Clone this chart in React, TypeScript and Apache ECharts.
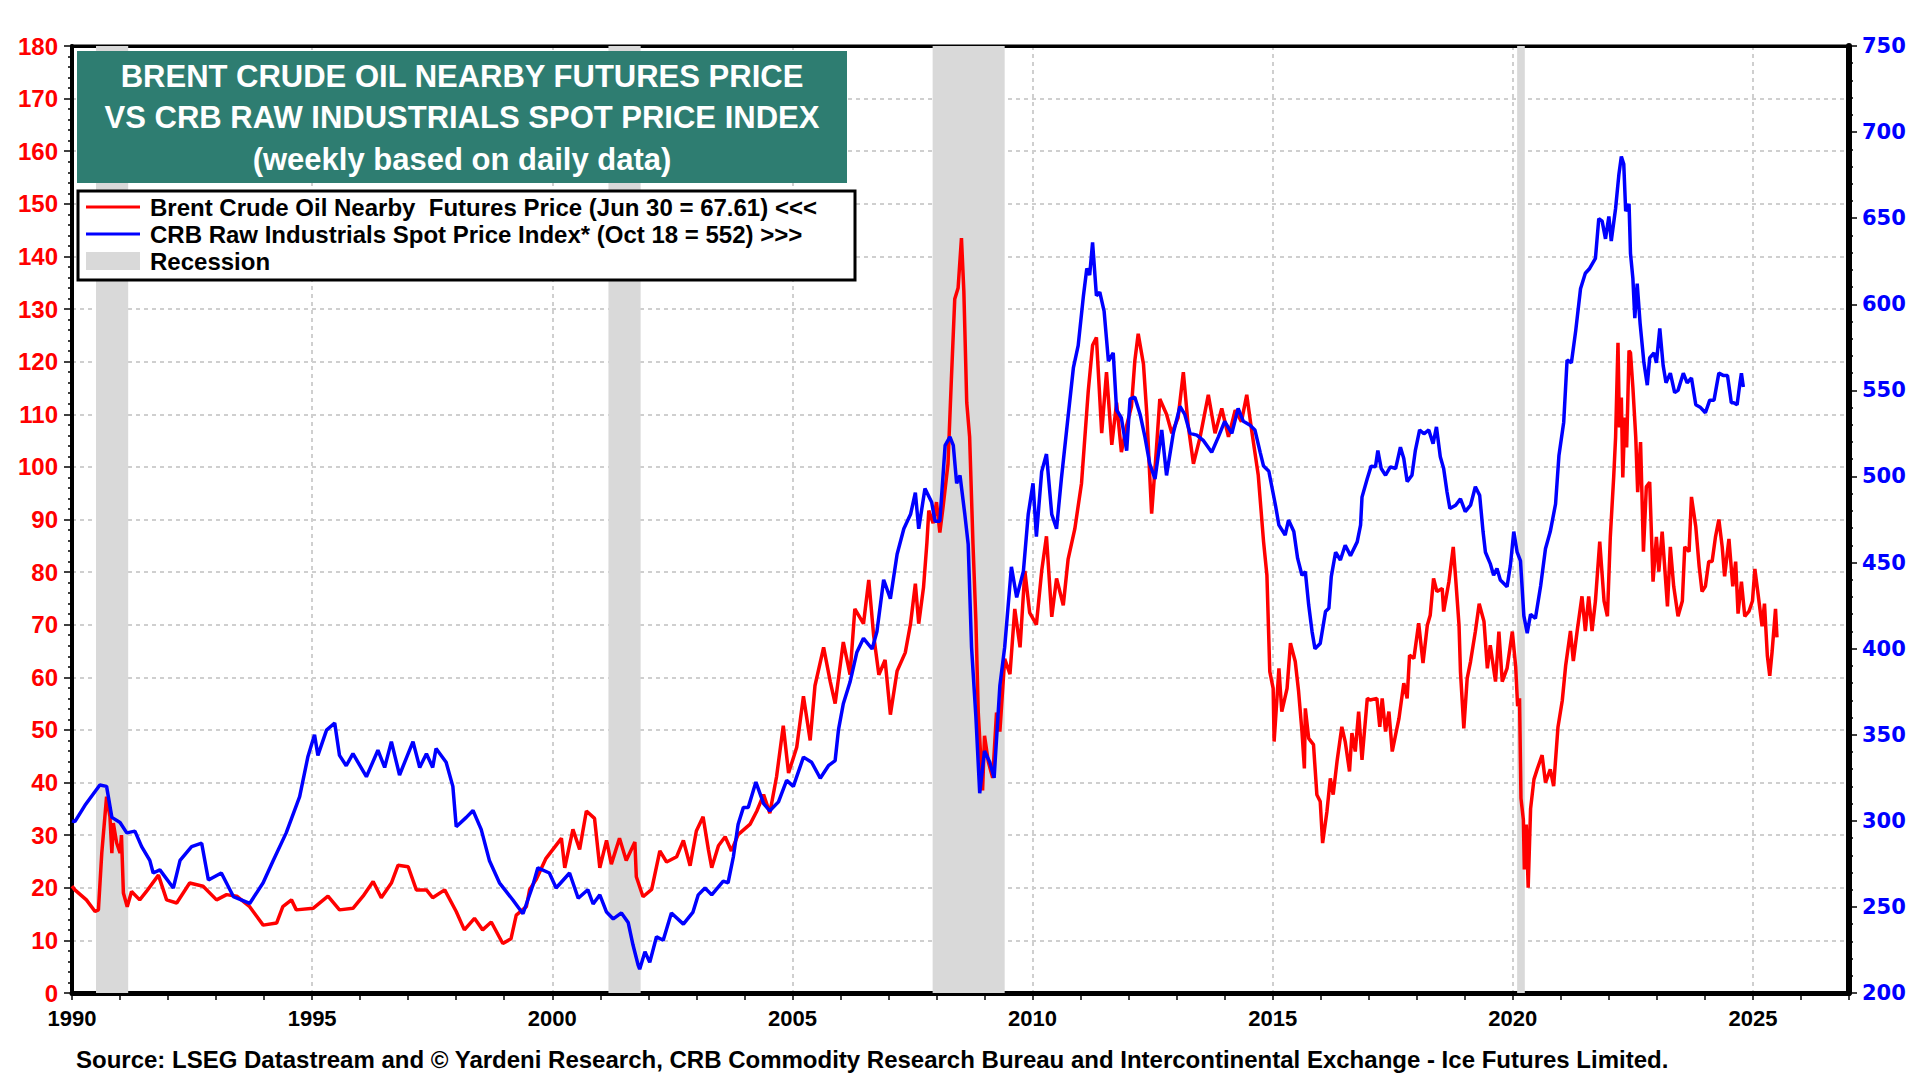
import { useEffect, useRef } from 'react';
import * as echarts from 'echarts';

const FONT = '"Liberation Sans", Arial, Helvetica, sans-serif';

// Brent crude, $/bbl (left axis) – [decimal year, value]
const brent1990s: [number, number][] = [
  [1990.0, 20.3], [1990.06, 19.6], [1990.3, 17.7], [1990.48, 15.5], [1990.55, 15.8], [1990.62, 26.6], [1990.72, 37.3],
  [1990.79, 33.5], [1990.83, 26.6], [1990.86, 32.3], [1990.93, 28.5], [1991.0, 26.6], [1991.03, 30], [1991.07, 19],
  [1991.15, 16.4], [1991.24, 19.3], [1991.41, 17.7], [1991.55, 19.3], [1991.8, 22.4], [1991.97, 17.7], [1992.18, 17.1],
  [1992.45, 20.9], [1992.73, 20.3], [1993.01, 17.7], [1993.22, 18.7], [1993.43, 18.4], [1993.7, 16.4], [1993.98, 12.9],
  [1994.26, 13.3], [1994.39, 16.4], [1994.57, 17.7], [1994.67, 15.8], [1995.02, 16.1], [1995.33, 18.4], [1995.57, 15.8],
  [1995.85, 16.1], [1996.06, 18.4], [1996.27, 21.2], [1996.44, 18.1], [1996.65, 20.9], [1996.79, 24.3], [1997.0, 24],
  [1997.17, 19.6], [1997.38, 19.6], [1997.51, 18.1], [1997.76, 19.6], [1998.0, 15.5], [1998.17, 12], [1998.38, 14.2],
  [1998.55, 12], [1998.73, 13.5], [1998.97, 9.4], [1999.14, 10.3], [1999.25, 14.8], [1999.46, 16.4], [1999.53, 19.7],
  [1999.66, 21.5], [1999.87, 25.6],
];
const brent2000s: [number, number][] = [
  [2000.19, 29.4], [2000.26, 23.8], [2000.43, 31.1], [2000.57, 27.3], [2000.71, 34.6], [2000.88, 33.2], [2000.99, 23.8],
  [2001.13, 29], [2001.23, 24.5], [2001.4, 29.4], [2001.54, 25.2], [2001.72, 28.7], [2001.75, 22.1], [2001.89, 18.3],
  [2002.07, 19.7], [2002.24, 27], [2002.38, 24.9], [2002.59, 25.9], [2002.73, 29], [2002.87, 24.2], [2003.0, 30.8],
  [2003.14, 33.5], [2003.25, 27.3], [2003.32, 23.8], [2003.46, 28], [2003.6, 29.7], [2003.73, 27], [2003.87, 30.1],
  [2004.12, 32.1], [2004.26, 34.6], [2004.4, 37.7], [2004.53, 34.2], [2004.67, 41.1], [2004.81, 50.8], [2004.92, 41.8],
  [2005.09, 46.7], [2005.23, 56.4], [2005.37, 48], [2005.47, 58.4], [2005.65, 65.7], [2005.79, 59.1], [2005.89, 55],
  [2006.06, 66.7], [2006.2, 60.5], [2006.3, 73], [2006.48, 70.2], [2006.59, 78.5], [2006.69, 68.1], [2006.8, 60.5],
  [2006.93, 63.3], [2007.04, 52.9], [2007.18, 61.2], [2007.35, 64.7], [2007.46, 70.2], [2007.56, 77.8], [2007.63, 70.2],
  [2007.73, 77.1], [2007.8, 85.5], [2007.84, 91.7], [2007.93, 89.3], [2008.0, 93.3], [2008.07, 87.5], [2008.14, 92.6],
  [2008.24, 100.6], [2008.31, 116.6], [2008.38, 131.9], [2008.45, 134], [2008.52, 143.5], [2008.57, 133.3],
  [2008.63, 112.2], [2008.69, 105.7], [2008.76, 85.3], [2008.82, 70.8], [2008.87, 53.3], [2008.96, 38.5], [2009.0, 48.9],
  [2009.08, 43.9], [2009.17, 40.9], [2009.25, 53.3], [2009.32, 49.7], [2009.42, 63.5], [2009.53, 60.6], [2009.63, 73],
  [2009.74, 65.7], [2009.84, 80.2], [2009.94, 72.3],
];
const brent2010s: [number, number][] = [
  [2010.08, 70], [2010.19, 80.2], [2010.29, 86.8], [2010.4, 71.5], [2010.5, 78.8], [2010.64, 73.7], [2010.74, 82.4],
  [2010.88, 88.2], [2011.02, 96.9], [2011.16, 114.4], [2011.25, 123.1], [2011.33, 124.6], [2011.44, 106.4], [2011.54, 118],
  [2011.65, 104.2], [2011.75, 112.2], [2011.85, 102.8], [2011.96, 107.9], [2012.06, 111.5], [2012.13, 120.2],
  [2012.2, 125.3], [2012.31, 119.5], [2012.38, 110], [2012.44, 98.4], [2012.48, 91.1], [2012.58, 103.5], [2012.65, 112.9],
  [2012.79, 110], [2012.9, 106.4], [2013.03, 109.3], [2013.14, 118], [2013.24, 107.9], [2013.35, 100.6], [2013.49, 105.7],
  [2013.66, 113.7], [2013.8, 106.4], [2013.94, 111.1], [2014.08, 105.7], [2014.22, 110.8], [2014.35, 108.6],
  [2014.46, 113.7], [2014.56, 107.1], [2014.7, 98.4], [2014.81, 85.8], [2014.88, 79.4], [2014.94, 61.1], [2015.01, 57.9],
  [2015.03, 47.8], [2015.13, 61.7], [2015.19, 53.5], [2015.3, 57.9], [2015.37, 66.5], [2015.47, 63], [2015.54, 57.3],
  [2015.61, 49.7], [2015.66, 42.7], [2015.68, 54.1], [2015.75, 48.4], [2015.85, 47.2], [2015.92, 37.7], [2015.99, 36.4],
  [2016.04, 28.5], [2016.13, 34.5], [2016.2, 40.8], [2016.26, 37.7], [2016.34, 44], [2016.44, 50.6], [2016.51, 47.8],
  [2016.6, 42.1], [2016.65, 49.4], [2016.72, 45.9], [2016.79, 53.5], [2016.86, 44.3], [2016.97, 56], [2017.03, 55.7],
  [2017.17, 56], [2017.23, 50.6], [2017.28, 56], [2017.35, 49.7], [2017.42, 53.5], [2017.49, 45.9], [2017.56, 49.1],
  [2017.63, 52.2], [2017.73, 58.9], [2017.8, 56], [2017.85, 64.2], [2017.94, 63.6], [2018.04, 70.3], [2018.13, 62.7],
  [2018.22, 69.9], [2018.28, 71.8], [2018.35, 78.8], [2018.42, 76.3], [2018.53, 76.9], [2018.56, 72.5], [2018.67, 78.2],
  [2018.76, 84.8], [2018.81, 78.8], [2018.88, 69.9], [2018.91, 61.1], [2018.98, 50.3], [2019.05, 59.8], [2019.12, 63],
  [2019.22, 68.7], [2019.3, 74], [2019.4, 70.6], [2019.47, 61.7], [2019.53, 66.1], [2019.64, 59.2], [2019.71, 68.7],
  [2019.78, 59.2], [2019.88, 61.7], [2019.99, 68.7],
];
const brent2020s: [number, number][] = [
  [2020.06, 62], [2020.1, 54.5], [2020.14, 56], [2020.17, 37], [2020.22, 32.9], [2020.24, 23.5], [2020.28, 32],
  [2020.32, 20], [2020.37, 35], [2020.44, 40.6], [2020.51, 42.6], [2020.61, 45.2], [2020.68, 40], [2020.78, 42.5],
  [2020.85, 39.3], [2020.94, 50.5], [2021.03, 55.6], [2021.1, 62.2], [2021.2, 68.8], [2021.26, 63.1], [2021.34, 68.8],
  [2021.44, 75.4], [2021.51, 68.8], [2021.58, 75.4], [2021.65, 68.8], [2021.72, 74.5], [2021.81, 85.8], [2021.9, 74.5],
  [2021.97, 71.6], [2022.03, 86.7], [2022.1, 98], [2022.14, 105.6], [2022.19, 123.6], [2022.22, 107.5], [2022.26, 113.2],
  [2022.29, 98], [2022.33, 109.4], [2022.37, 103.7], [2022.42, 122.1], [2022.45, 121.7], [2022.5, 115.1], [2022.56, 105.6],
  [2022.6, 95.2], [2022.66, 104.7], [2022.72, 83.9], [2022.78, 96.2], [2022.85, 97.1], [2022.92, 78.2], [2022.99, 86.7],
  [2023.04, 80.1], [2023.11, 87.7], [2023.22, 73.5], [2023.28, 84.8], [2023.35, 77.3], [2023.44, 71.6], [2023.53, 74.5],
  [2023.58, 84.8], [2023.67, 83.9], [2023.72, 94.3], [2023.81, 88.6], [2023.88, 81.1], [2023.94, 76.3], [2024.01, 77.3],
  [2024.08, 82], [2024.15, 82], [2024.22, 86.7], [2024.29, 90], [2024.36, 84.8], [2024.41, 79.2], [2024.5, 86.3],
  [2024.58, 77.3], [2024.64, 82], [2024.69, 72.1], [2024.76, 78.2], [2024.83, 71.6], [2024.92, 72.6], [2024.99, 74.5],
  [2025.04, 80.6], [2025.1, 76.3], [2025.19, 69.7], [2025.24, 74], [2025.3, 64.1], [2025.35, 60.3], [2025.4, 65],
  [2025.47, 73], [2025.5, 67.6],
];

// CRB raw industrials spot index (right axis)
const crb1990s: [number, number][] = [
  [1990.0, 300], [1990.06, 299.5], [1990.27, 309], [1990.58, 320.8], [1990.72, 320], [1990.83, 302], [1991.0, 299],
  [1991.14, 293], [1991.31, 294], [1991.45, 285], [1991.62, 277], [1991.69, 269.7], [1991.83, 271.5], [1992.11, 261],
  [1992.25, 277], [1992.49, 285], [1992.7, 287], [1992.84, 265.6], [1993.11, 269.7], [1993.36, 256], [1993.7, 252],
  [1993.98, 264], [1994.19, 277], [1994.46, 293], [1994.74, 314], [1994.91, 337], [1995.05, 350], [1995.12, 338],
  [1995.3, 352.7], [1995.47, 356.8], [1995.57, 338], [1995.71, 332], [1995.85, 339], [1996.13, 325.6], [1996.37, 341],
  [1996.51, 331], [1996.65, 346], [1996.82, 326.6], [1997.1, 346], [1997.24, 331], [1997.38, 339], [1997.51, 331],
  [1997.58, 342], [1997.79, 334], [1997.93, 320], [1998.0, 296.6], [1998.21, 302], [1998.35, 306], [1998.52, 295],
  [1998.69, 277], [1998.9, 264], [1999.18, 254], [1999.39, 246], [1999.59, 262], [1999.7, 272.7], [1999.94, 269.7],
];
const crb2000s: [number, number][] = [
  [2000.08, 261], [2000.36, 269.7], [2000.54, 255], [2000.74, 260], [2000.85, 251.7], [2000.99, 257], [2001.13, 247],
  [2001.27, 243], [2001.44, 246.5], [2001.58, 241], [2001.68, 228], [2001.79, 216], [2001.82, 213.8], [2001.93, 224],
  [2002.03, 217.8], [2002.17, 232.7], [2002.31, 230.6], [2002.48, 246.5], [2002.73, 240], [2002.93, 247], [2003.04, 257],
  [2003.18, 261], [2003.32, 257], [2003.56, 265], [2003.66, 264], [2003.77, 279], [2003.87, 298], [2003.98, 307.8],
  [2004.08, 307.8], [2004.24, 322.5], [2004.4, 310], [2004.53, 305.8], [2004.71, 311], [2004.88, 323.5], [2005.02, 320],
  [2005.23, 337], [2005.4, 334], [2005.58, 324.7], [2005.75, 332], [2005.89, 335], [2005.96, 353], [2006.06, 368],
  [2006.2, 380.6], [2006.34, 397.7], [2006.48, 406], [2006.66, 399.8], [2006.76, 410], [2006.9, 440], [2007.04, 429],
  [2007.18, 454.8], [2007.32, 469.6], [2007.46, 478], [2007.56, 490.6], [2007.63, 469.6], [2007.76, 493], [2007.9, 485],
  [2007.97, 474], [2008.07, 474], [2008.18, 518], [2008.28, 523], [2008.35, 518], [2008.42, 496], [2008.49, 500.6],
  [2008.59, 478], [2008.66, 460.6], [2008.73, 400.8], [2008.82, 360.7], [2008.9, 316], [2009.0, 340.6], [2009.11, 334],
  [2009.2, 325], [2009.32, 378.5], [2009.42, 400.8], [2009.56, 447.5], [2009.67, 429.8], [2009.81, 445], [2009.91, 478],
];
const crb2010s: [number, number][] = [
  [2010.01, 496], [2010.08, 465], [2010.19, 502.8], [2010.29, 513], [2010.4, 478], [2010.5, 469.6], [2010.6, 498.5],
  [2010.71, 527], [2010.85, 563], [2010.95, 576], [2011.06, 605], [2011.13, 620.8], [2011.19, 617], [2011.25, 636],
  [2011.33, 605], [2011.4, 607], [2011.49, 596], [2011.58, 567], [2011.68, 571.8], [2011.75, 538.6], [2011.85, 534],
  [2011.96, 515], [2012.03, 545], [2012.13, 546], [2012.24, 536], [2012.34, 523], [2012.44, 507.4], [2012.55, 498.5],
  [2012.69, 527], [2012.79, 500.6], [2012.93, 525], [2013.07, 540.7], [2013.17, 536], [2013.28, 525], [2013.42, 524],
  [2013.56, 520.8], [2013.73, 514], [2013.87, 523], [2014.0, 532], [2014.15, 525], [2014.28, 539.5], [2014.39, 532],
  [2014.53, 529.7], [2014.63, 527], [2014.74, 514], [2014.81, 506], [2014.92, 503], [2014.99, 493], [2015.06, 483],
  [2015.13, 471.7], [2015.26, 466], [2015.33, 474.7], [2015.44, 468], [2015.52, 452.4], [2015.61, 442.6], [2015.68, 444.7],
  [2015.75, 425.3], [2015.82, 409.9], [2015.88, 400], [2015.99, 403], [2016.1, 421.5], [2016.17, 423.4], [2016.22, 441.8],
  [2016.31, 456], [2016.41, 451.5], [2016.51, 460], [2016.62, 454], [2016.76, 462], [2016.83, 471.7], [2016.86, 488],
  [2016.97, 498.8], [2017.05, 506], [2017.14, 505.6], [2017.19, 515], [2017.26, 504.6], [2017.35, 500.7], [2017.45, 505.6],
  [2017.56, 504.6], [2017.66, 517], [2017.73, 510.4], [2017.8, 497], [2017.9, 500.7], [2017.97, 515], [2018.06, 527],
  [2018.15, 524.8], [2018.25, 527], [2018.34, 519], [2018.41, 528.8], [2018.49, 511.4], [2018.56, 504.6], [2018.63, 491],
  [2018.69, 481.4], [2018.81, 483.3], [2018.91, 487], [2019.01, 479.6], [2019.12, 483.3], [2019.22, 494], [2019.31, 489],
  [2019.38, 468], [2019.43, 456], [2019.53, 449.4], [2019.6, 442.6], [2019.67, 446.6], [2019.74, 439.9], [2019.88, 436],
  [2019.95, 448.4],
];
const crb2020s: [number, number][] = [
  [2020.02, 468], [2020.09, 456], [2020.16, 451], [2020.23, 419], [2020.3, 409], [2020.37, 420], [2020.47, 417.5],
  [2020.58, 436.5], [2020.68, 458], [2020.78, 468], [2020.89, 484], [2020.96, 512], [2021.06, 531.5], [2021.13, 567.6],
  [2021.22, 566], [2021.31, 584.7], [2021.41, 609], [2021.51, 618], [2021.6, 620.8], [2021.72, 626.6], [2021.79, 649.8],
  [2021.86, 648.3], [2021.93, 638], [2022.0, 651], [2022.05, 636.7], [2022.14, 655.6], [2022.21, 675.7], [2022.26, 685.8],
  [2022.31, 681.5], [2022.35, 654], [2022.42, 658.3], [2022.45, 629.6], [2022.5, 615], [2022.54, 592], [2022.59, 612],
  [2022.65, 589], [2022.73, 566], [2022.8, 553], [2022.85, 568.8], [2022.94, 571.8], [2022.99, 566], [2023.06, 586],
  [2023.13, 564.5], [2023.19, 554.4], [2023.28, 560], [2023.37, 548.7], [2023.44, 550], [2023.55, 560], [2023.63, 554.4],
  [2023.72, 557.2], [2023.81, 541.6], [2023.91, 540], [2024.01, 537], [2024.1, 544.3], [2024.19, 544.3], [2024.29, 560],
  [2024.38, 558.7], [2024.47, 558.7], [2024.55, 542.8], [2024.6, 542.8], [2024.67, 541.6], [2024.73, 554.4],
  [2024.76, 560], [2024.8, 552],
];

const recessions: [number, number][] = [[1990.5, 1991.17], [2001.17, 2001.84], [2007.92, 2009.42], [2020.09, 2020.25]];

const titleLines = [
  'BRENT CRUDE OIL NEARBY FUTURES PRICE',
  'VS CRB RAW INDUSTRIALS SPOT PRICE INDEX',
  '(weekly based on daily data)',
];
const legendItems = [
  'Brent Crude Oil Nearby  Futures Price (Jun 30 = 67.61) <<<',
  'CRB Raw Industrials Spot Price Index* (Oct 18 = 552) >>>',
  'Recession',
];
const sourceText =
  'Source: LSEG Datastream and \u00a9 Yardeni Research, CRB Commodity Research Bureau and Intercontinental Exchange - Ice Futures Limited.';

const brent = [...brent1990s, ...brent2000s, ...brent2010s, ...brent2020s];
const crb = [...crb1990s, ...crb2000s, ...crb2010s, ...crb2020s];

const gridDash = { color: '#cfcfcf', width: 2, type: [4, 4] as number[] };

function buildOption(): echarts.EChartsOption {
  const txt = (text: string, x: number, y: number, size: number, fill: string, align = 'left') => ({
    type: 'text', x, y, z: 20,
    style: { text, fill, fontFamily: FONT, fontWeight: 'bold', fontSize: size, textAlign: align, textVerticalAlign: 'middle' },
  });
  return {
    animation: false,
    textStyle: { fontFamily: FONT },
    grid: { left: 72, right: 71, top: 46, bottom: 87, show: true, borderColor: '#000', borderWidth: 3, containLabel: false },
    xAxis: [
      {
        type: 'value', min: 1990, max: 2027, interval: 1,
        axisLine: { lineStyle: { color: '#000', width: 5 } },
        axisTick: { length: 7, lineStyle: { color: '#000', width: 1.5 } },
        axisLabel: {
          margin: 14, color: '#000', fontWeight: 'bold', fontSize: 22, fontFamily: FONT,
          formatter: (v: number) => (v % 5 === 0 && v < 2027 ? String(v) : ''),
        },
        splitLine: { show: false },
      },
      {
        // top frame edge plus the 5-year vertical grid
        type: 'value', min: 1990, max: 2027, interval: 5, position: 'top',
        axisLine: { show: true, lineStyle: { color: '#000', width: 3 } },
        axisTick: { show: false }, axisLabel: { show: false },
        splitLine: { show: true, lineStyle: gridDash },
      },
    ],
    yAxis: [
      {
        type: 'value', min: 0, max: 180, interval: 10, position: 'left',
        axisLine: { show: true, lineStyle: { color: '#000', width: 4 } },
        axisTick: { show: true, length: 8, lineStyle: { color: '#000', width: 1.5 } },
        minorTick: { show: true, splitNumber: 5, length: 4, lineStyle: { color: '#000', width: 1.5 } },
        axisLabel: { margin: 14, color: '#ff0000', fontWeight: 'bold', fontSize: 24, fontFamily: FONT },
        splitLine: { show: true, lineStyle: gridDash },
      },
      {
        type: 'value', min: 200, max: 750, interval: 50, position: 'right',
        axisLine: { show: true, lineStyle: { color: '#000', width: 6 } },
        axisTick: { show: true, length: 8, lineStyle: { color: '#000', width: 1.5 } },
        minorTick: { show: true, splitNumber: 5, length: 4, lineStyle: { color: '#000', width: 1.5 } },
        axisLabel: { margin: 13, color: '#0000ff', fontWeight: 'bold', fontSize: 21, fontFamily: '"DejaVu Sans", Verdana, sans-serif' },
        splitLine: { show: false },
      },
    ],
    series: [
      {
        name: 'Brent', type: 'line', xAxisIndex: 0, yAxisIndex: 0, data: brent,
        showSymbol: false, symbol: 'none', lineStyle: { color: '#ff0000', width: 3.5 }, z: 3,
        markArea: {
          silent: true,
          itemStyle: { color: '#d9d9d9' },
          data: recessions.map(([a, b]) => [{ xAxis: a }, { xAxis: b }]) as any,
        },
      },
      {
        name: 'CRB', type: 'line', xAxisIndex: 0, yAxisIndex: 1, data: crb,
        showSymbol: false, symbol: 'none', lineStyle: { color: '#0000ff', width: 3.5 }, z: 4,
      },
    ],
    graphic: [
      { type: 'rect', z: 10, shape: { x: 77, y: 51, width: 770, height: 132 }, style: { fill: '#2e7d71' } },
      txt(titleLines[0], 462, 76, 31, '#ffffff', 'center'),
      txt(titleLines[1], 462, 117, 31, '#ffffff', 'center'),
      txt(titleLines[2], 462, 159, 31, '#ffffff', 'center'),
      { type: 'rect', z: 10, shape: { x: 78, y: 191, width: 777, height: 89 }, style: { fill: '#ffffff', stroke: '#000', lineWidth: 3 } },
      { type: 'line', z: 20, shape: { x1: 86, y1: 207, x2: 140, y2: 207 }, style: { stroke: '#ff0000', lineWidth: 3 } },
      { type: 'line', z: 20, shape: { x1: 86, y1: 234, x2: 140, y2: 234 }, style: { stroke: '#0000ff', lineWidth: 3 } },
      { type: 'rect', z: 20, shape: { x: 86, y: 252, width: 54, height: 18 }, style: { fill: '#d9d9d9' } },
      txt(legendItems[0], 150, 207, 24, '#000'),
      txt(legendItems[1], 150, 234, 24, '#000'),
      txt(legendItems[2], 150, 261, 24, '#000'),
      txt(sourceText, 76, 1059, 24, '#000'),
    ] as any,
  };
}

export default function App() {
  const ref = useRef<HTMLDivElement>(null);

  useEffect(() => {
    document.body.style.margin = '0';
    if (!ref.current) return;
    const chart = echarts.init(ref.current, undefined, { renderer: 'svg' });
    chart.setOption(buildOption());
    return () => chart.dispose();
  }, []);

  return <div ref={ref} style={{ width: 1920, height: 1080, background: '#fff' }} />;
}
